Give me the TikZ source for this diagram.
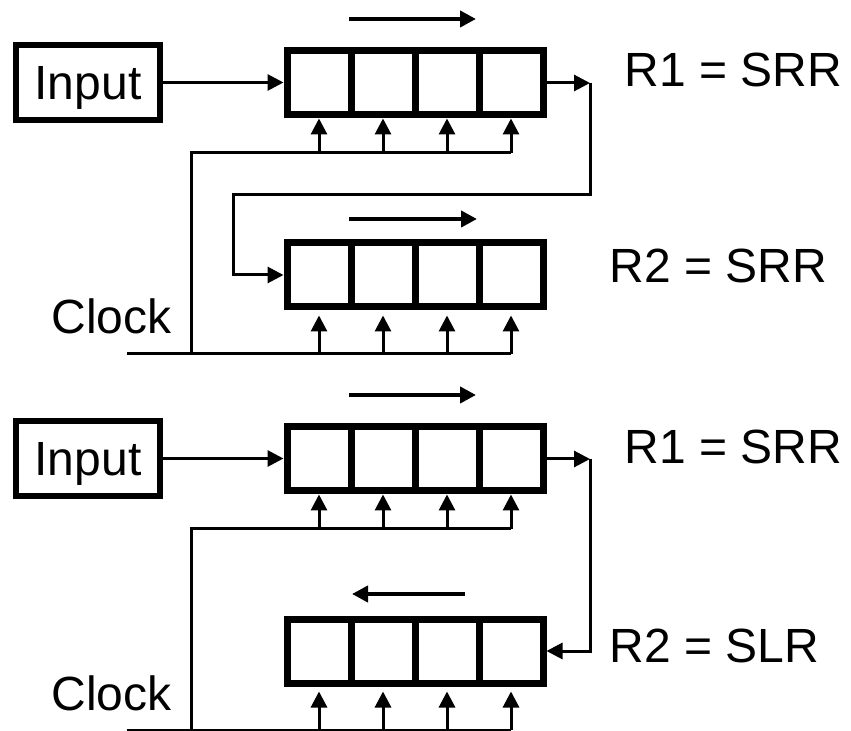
\documentclass[tikz,border=0pt]{standalone}
\usepackage{fontspec}
\setmainfont{Liberation Sans}
\usetikzlibrary{arrows.meta}
\begin{document}
\begin{tikzpicture}[x=0.5pt,y=-0.5pt,
  cell/.style={draw, line width=3.5pt, minimum width=32pt, minimum height=32pt, inner sep=0pt},
  inbox/.style={draw, line width=2.75pt, minimum width=72pt, minimum height=37.5pt, inner sep=0pt,
                text height=17pt, text depth=0pt, font=\fontsize{24pt}{28pt}\selectfont},
  lbl/.style={inner sep=0pt, font=\fontsize{24pt}{28pt}\selectfont},
  wire/.style={line width=1.5pt},
  arr/.style={wire, -{Triangle[length=8pt,width=8pt]}},
  dirarr/.style={line width=2pt, -{Triangle[length=8pt,width=8pt]}}]
\useasboundingbox (0,0) rectangle (851,731);

% ---------------- top diagram ----------------
\node[inbox] (in1) at (88,82.5) {Input};
\foreach \i/\x in {1/319,2/383,3/447,4/511}{
  \node[cell] (a\i) at (\x,83) {};
  \node[cell] (b\i) at (\x,275) {};
}
\coordinate (s1a) at (349,19);  \coordinate (s1b) at (476,19);
\coordinate (s2a) at (349,219); \coordinate (s2b) at (477,219);
\draw[dirarr] (s1a) -- (s1b);
\draw[dirarr] (s2a) -- (s2b);

\draw[arr] (in1.east) -- (a1.west |- in1.east);
\coordinate (o1) at (590,83);
\coordinate (r1) at (233,195);
\draw[arr] (a4.east) -- (o1);
\draw[arr, line join=miter] (o1) |- (r1) |- (b1.west);

\coordinate (ck1) at (191,153);
\coordinate (clkA) at (127,354);
\coordinate (clkB) at (191,354);
\draw[wire] (clkA) -- (b4.south |- clkA);
\draw[wire, line join=miter] (clkB) -- (ck1) -- (a4.south |- ck1);
\foreach \i in {1,2,3,4}{
  \draw[arr] (a\i.south |- ck1) -- (a\i.south);
  \draw[arr] (b\i.south |- clkA) -- ([yshift=-2.5pt]b\i.south);
}

\node[lbl, anchor=base west] (t1) at (624,87) {R1 = SRR};
\node[lbl, anchor=base west] (t2) at (609,283) {R2 = SRR};
\node[lbl, anchor=base east] (clk1) at (172,334) {Clock};

% ---------------- bottom diagram ----------------
\node[inbox] (in2) at (88,458.5) {Input};
\foreach \i/\x in {1/319,2/383,3/447,4/511}{
  \node[cell] (c\i) at (\x,459) {};
  \node[cell] (d\i) at (\x,651) {};
}
\coordinate (s3a) at (349,395); \coordinate (s3b) at (476,395);
\coordinate (s4a) at (465,594); \coordinate (s4b) at (352,594);
\draw[dirarr] (s3a) -- (s3b);
\draw[dirarr] (s4a) -- (s4b);

\draw[arr] (in2.east) -- (c1.west |- in2.east);
\coordinate (o2) at (590,459);
\draw[arr] (c4.east) -- (o2);
\draw[arr, line join=miter] (o2) |- (d4.east);

\coordinate (ck2) at (191,529);
\coordinate (clkC) at (127,730);
\coordinate (clkD) at (191,730);
\draw[wire] (clkC) -- (d4.south |- clkC);
\draw[wire, line join=miter] (clkD) -- (ck2) -- (c4.south |- ck2);
\foreach \i in {1,2,3,4}{
  \draw[arr] (c\i.south |- ck2) -- (c\i.south);
  \draw[arr] (d\i.south |- clkC) -- ([yshift=-2.5pt]d\i.south);
}

\node[lbl, anchor=base west] (t3) at (624,464) {R1 = SRR};
\node[lbl, anchor=base west] (t4) at (609,662) {R2 = SLR};
\node[lbl, anchor=base east] (clk2) at (172,710) {Clock};
\end{tikzpicture}
\end{document}
